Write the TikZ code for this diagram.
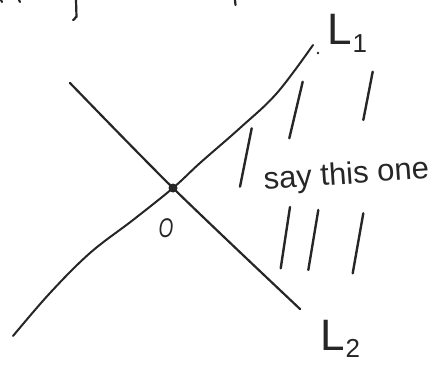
\documentclass[tikz,border=0pt]{standalone}
\usepackage{fontspec}
\setmainfont{Liberation Sans}
\newcommand{\lsub}[2]{#1\kern1pt\raisebox{-7pt}{\fontsize{26}{28}\selectfont #2}}
\begin{document}
\begin{tikzpicture}[x=1pt,y=-1pt,
  pen/.style={line width=2.2pt,line cap=round,line join=round,black!85},
  hatch/.style={line width=2.4pt,line cap=round,black!85},
  lbl/.style={inner sep=0pt,text=black!85}]
\useasboundingbox (0,0) rectangle (442,372);
% fragments of the line above, cut off at the top edge
\draw[pen] (76,0) -- (76.5,17) to[out=100,in=0] (73,20);
\draw[pen] (235,0) -- (235.5,5);
\draw[pen] (1,0) -- (2,2);
\draw[pen] (19,0) -- (20,2);
% crossing point
\coordinate (O) at (173,188);
% line L1 (curved)
\coordinate (L1s) at (13,336);
\coordinate (L1e) at (313,45);
\draw[pen,line width=2pt] plot[smooth,tension=0.6] coordinates
  {(L1s) (50,293) (90,253) (133,220) (O) (200,163) (240,128) (277,93) (L1e)};
% line L2
\coordinate (L2s) at (70,83);
\coordinate (L2e) at (300,309);
\draw[pen] plot[smooth,tension=0.5] coordinates {(L2s) (O) (L2e)};
\fill[black!85] (O) circle (4.5pt);
% small dot near L1 end
\fill[black!85] (318,53) circle (1.3pt);
% labels
\node[lbl,font=\fontsize{44}{48}\selectfont,anchor=base west] (tL1) at (327,45) {\lsub{L}{1}};
\node[lbl,font=\fontsize{44}{48}\selectfont,anchor=base west] (tL2) at (320,350) {\lsub{L}{2}};
\node[lbl,font=\itshape\fontsize{27}{30}\selectfont,anchor=base] (tO) at (166,237) {\scalebox{0.7}[1]{O}};
\node[lbl,font=\fontsize{31}{36}\selectfont,rotate=4,anchor=base] (say) at (347,184) {say this one};
% hatching strokes
\draw[hatch] (251.7,128.3) -- (240,186.7);
\draw[hatch] (302.7,81.7) -- (289.3,138.3);
\draw[hatch] (372.7,71.7) -- (363.3,120);
\draw[hatch] (290,207) -- (280.7,268.3);
\draw[hatch] (318.3,210) -- (308.3,270);
\draw[hatch] (363.3,213.3) -- (352.7,273.3);
\end{tikzpicture}
\end{document}
